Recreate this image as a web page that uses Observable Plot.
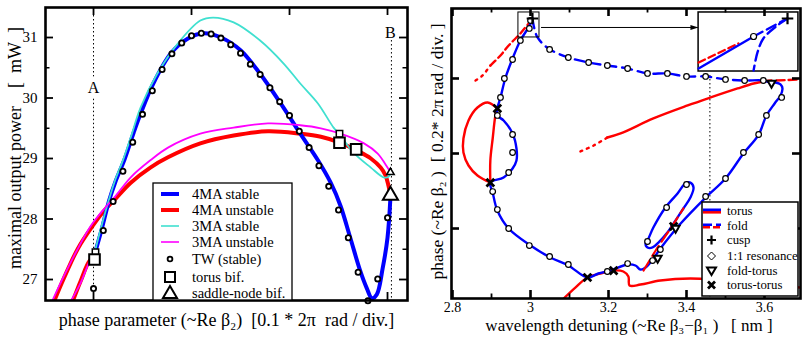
<!DOCTYPE html>
<html><head><meta charset="utf-8">
<script src="https://cdn.jsdelivr.net/npm/d3@7"></script>
<script src="https://cdn.jsdelivr.net/npm/@observablehq/plot@0.6"></script>
<style>
body{margin:0;background:#fff;}
#wrap{display:flex;width:804px;height:359px;overflow:hidden;}
svg, svg text{font-family:"Liberation Serif",serif;}
</style></head><body><div id="wrap"></div>
<script>
// ---------------- LEFT PANEL DATA ----------------
const leftXDomain = [-0.49, 3.204];
const leftYDomain = [26.653, 31.496];
const leftXTicks = [0, 1, 2, 3];
const leftYTicks = [27, 28, 29, 30, 31];
const leftYMinor = [27.5, 28.5, 29.5, 30.5];
const stable4MA = [[0.01,27.41],[0.08,27.81],[0.16,28.31],[0.22,28.60],[0.32,29.00],[0.41,29.43],[0.48,29.74],[0.61,30.24],[0.79,30.74],[0.96,30.98],[1.12,31.07],[1.30,31.00],[1.50,30.79],[1.70,30.40],[1.91,29.91],[2.11,29.41],[2.29,28.97],[2.42,28.60],[2.52,28.22],[2.62,27.69],[2.72,27.15],[2.79,26.85],[2.84,26.69],[2.89,26.75],[2.95,27.18],[3.00,27.69],[3.03,28.36]];
const unstable4MA_a = [[-0.40,26.65],[-0.30,27.03],[-0.16,27.51],[-0.02,27.86],[0.11,28.14],[0.21,28.31],[0.38,28.60],[0.58,28.85],[0.76,29.02],[1.09,29.25],[1.43,29.38],[1.78,29.45],[2.11,29.41],[2.32,29.36],[2.52,29.26],[2.69,29.13],[2.83,29.00],[2.93,28.85],[2.98,28.72],[3.01,28.55],[3.03,28.39]];
const unstable4MA_b = [[-0.21,26.65],[-0.13,26.98],[-0.04,27.31],[0.01,27.36]];
const stable3MA = [[0.02,27.50],[0.12,28.11],[0.22,28.64],[0.30,28.97],[0.38,29.35],[0.48,29.84],[0.65,30.40],[0.86,30.90],[1.09,31.28],[1.22,31.33],[1.43,31.25],[1.70,30.95],[1.94,30.57],[2.11,30.24],[2.29,29.91],[2.45,29.51],[2.51,29.40],[2.65,29.10],[2.83,28.85],[2.96,28.69],[3.01,28.70],[3.03,28.77]];
const unstable3MA_a = [[-0.42,26.65],[-0.31,27.03],[-0.17,27.48],[-0.03,27.88],[0.11,28.17],[0.22,28.37],[0.38,28.69],[0.58,28.97],[0.76,29.18],[1.09,29.41],[1.43,29.51],[1.78,29.58],[2.11,29.55],[2.32,29.50],[2.52,29.41],[2.76,29.25],[2.90,29.08],[3.00,28.85],[3.03,28.77]];
const unstable3MA_b = [[-0.23,26.65],[-0.13,26.95],[-0.04,27.30],[0.02,27.45]];
const twStable = [[0.0,26.85],[0.1,27.81],[0.2,28.29],[0.3,28.79],[0.4,29.27],[0.5,29.73],[0.6,30.12],[0.7,30.47],[0.8,30.73],[0.9,30.91],[1.0,31.03],[1.1,31.07],[1.2,31.06],[1.3,30.99],[1.4,30.88],[1.5,30.74],[1.6,30.56],[1.7,30.39],[1.8,30.17],[1.9,29.94],[2.0,29.71],[2.1,29.45],[2.2,29.18],[2.3,28.88],[2.4,28.54],[2.5,28.15],[2.6,27.69],[2.7,27.12],[2.8,26.65],[2.9,27.01],[3.0,28.02]];
const torus4MA = [[0.01,27.33],[2.51,29.26],[2.68,29.15]];
const torus3MA = [[0.02,27.45],[2.51,29.41]];
const saddle4MA = [[3.03,28.39]];
const saddle3MA = [[3.03,28.77]];
const markA = {x: 0, y: 30.16, label: "A"};
const markB = {x: 3.03, y: 31.08, label: "B"};
const lineAx = 0, lineBx = 3.04;
const leftLegendLabels = ["4MA stable","4MA unstable","3MA stable","3MA unstable","TW (stable)","torus bif.","saddle-node bif."];

// ---------------- RIGHT PANEL DATA ----------------
const rightXDomain = [2.7974, 3.6923];
const rightYDomain = [0.067, 3.933];
const rightXTicks = [2.8, 3.0, 3.2, 3.4, 3.6];
const rightXMinor = [2.9, 3.1, 3.3, 3.5];
const rightYTicks = [1, 2, 3];
const torusBlueMain = [[3.005,3.80],[2.997,3.70],[2.974,3.507],[2.954,3.267],[2.936,3.013],[2.923,2.747],[2.915,2.60],[2.915,2.507],[2.931,2.44],[2.954,2.267],[2.964,2.067],[2.964,1.907],[2.954,1.80],[2.931,1.68],[2.897,1.613],[2.903,1.48],[2.915,1.24],[2.944,1.00],[3.000,0.773],[3.051,0.613],[3.097,0.507],[3.146,0.347],[3.174,0.40],[3.205,0.44],[3.249,0.52],[3.269,0.507],[3.282,0.453],[3.295,0.48],[3.315,0.60],[3.333,0.733],[3.385,1.067],[3.449,1.413],[3.500,1.667],[3.546,2.00],[3.585,2.253],[3.605,2.507],[3.626,2.667],[3.641,2.773],[3.646,2.867],[3.641,2.92],[3.628,2.947]];
const torusBlueLoop = [[3.295,0.80],[3.300,0.84],[3.315,1.013],[3.346,1.28],[3.377,1.467],[3.397,1.60],[3.410,1.613],[3.418,1.547],[3.410,1.413],[3.392,1.267],[3.372,1.107],[3.351,0.947],[3.328,0.813],[3.313,0.747],[3.300,0.747]];
const foldBlue = [[3.005,3.80],[3.008,3.707],[3.018,3.547],[3.046,3.40],[3.097,3.28],[3.149,3.213],[3.197,3.173],[3.249,3.133],[3.300,3.067],[3.351,3.067],[3.400,3.027],[3.449,3.027],[3.500,2.987],[3.549,2.973],[3.597,2.973],[3.618,2.933]];
const foldRedRight = [[3.631,2.973],[3.692,2.987]];
const foldRedUpperDotted = [[2.859,2.973],[2.877,3.04],[2.897,3.173]];
const foldRedUpper = [[2.897,3.173],[2.923,3.307],[2.944,3.44],[2.974,3.60],[2.995,3.733]];
const torusRedLine = [[3.197,2.213],[3.231,2.267],[3.315,2.467],[3.403,2.64],[3.462,2.747],[3.531,2.867],[3.572,2.933],[3.597,2.96],[3.618,2.973]];
const torusRedDotted = [[3.128,2.027],[3.162,2.107],[3.197,2.213]];
const torusRedLoop = [[2.915,2.60],[2.890,2.68],[2.864,2.613],[2.841,2.44],[2.828,2.20],[2.828,2.013],[2.841,1.84],[2.864,1.707],[2.897,1.613]];
const torusRedVertical = [[2.915,2.60],[2.910,2.507],[2.903,2.20],[2.897,1.907],[2.897,1.613]];
const torusRedBottom = [[3.085,0.067],[3.115,0.213],[3.146,0.347],[3.179,0.40],[3.213,0.44],[3.238,0.427],[3.251,0.36],[3.254,0.24],[3.282,0.253],[3.333,0.307],[3.410,0.333],[3.487,0.307],[3.590,0.253],[3.692,0.213]];
const torusRedNear = [[3.290,0.44],[3.321,0.707],[3.359,1.0],[3.392,1.267]];
const resonance = [[3.000,3.773],[2.997,3.667],[2.974,3.507],[2.954,3.253],[2.933,3.00],[2.923,2.747],[2.915,2.507],[2.954,2.253],[2.954,2.013],[3.049,3.387],[3.097,3.28],[3.149,3.213],[3.197,3.173],[3.249,3.133],[3.300,3.067],[3.351,3.067],[3.400,3.027],[3.449,3.027],[3.500,2.987],[3.549,2.973],[3.597,2.973],[3.644,2.747],[3.605,2.507],[3.585,2.253],[3.546,2.013],[2.944,1.747],[2.903,1.493],[2.915,1.253],[2.944,1.00],[2.997,0.773],[3.049,0.627],[3.097,0.52],[3.197,0.427],[3.249,0.533],[3.500,1.667],[3.449,1.427],[3.400,1.587],[3.349,1.28],[3.300,0.827],[3.333,0.72],[3.313,0.573]];
const torusTorus = [[2.915,2.60],[2.897,1.613],[3.146,0.347],[3.213,0.44],[3.367,1.027]];
const foldTorus = [[3.618,2.933],[3.372,1.0],[3.326,0.60]];
const cusp = [[3.005,3.80]];
const detuningMarkX = 3.46, detuningMarkTop = 3.04;
const zoomBox = {x1: 2.969, x2: 3.023, y1: 3.547, y2: 3.88};
const insetBox = {x1: 3.431, x2: 3.687, y1: 3.093, y2: 3.88};
const arrowLine = [[3.028,3.68],[3.428,3.68]];
const insetBlueSolid = [[3.431,3.133],[3.572,3.56]];
const insetBlueDash = [[3.572,3.56],[3.659,3.80]];
const insetBlueDash2 = [[3.659,3.80],[3.633,3.707],[3.597,3.533],[3.582,3.347],[3.572,3.107]];
const insetRedDash = [[3.431,3.213],[3.533,3.467]];
const insetCircle = [[3.572,3.56]];
const insetCusp = [[3.659,3.80]];
const rightLegendLabels = ["torus","fold","cusp","1:1 resonance","fold-torus","torus-torus"];

// ---------------- helpers ----------------
const P = a => a.map(([x, y]) => ({x, y}));
const BLUE = "#0000ff", RED = "#ff0000", CYAN = "#40e0d0", MAG = "#ff00ff";
const FONT = "'Liberation Serif', serif";
function tickRules(xs, ys, xd, yd, len, sw) {
  const o = {stroke: "black", strokeWidth: sw};
  return [
    Plot.ruleX(xs, {x: d => d, y1: yd[0], y2: yd[0], insetBottom: len, ...o}),
    Plot.ruleX(xs, {x: d => d, y1: yd[1], y2: yd[1], insetTop: len, ...o}),
    Plot.ruleY(ys, {y: d => d, x1: xd[0], x2: xd[0], insetLeft: len, ...o}),
    Plot.ruleY(ys, {y: d => d, x1: xd[1], x2: xd[1], insetRight: len, ...o})
  ];
}
const triDown = {draw(ctx, size) {
  const r = Math.sqrt(size / Math.PI) * 1.3;
  ctx.moveTo(0, r); ctx.lineTo(r * 0.95, -r * 0.65); ctx.lineTo(-r * 0.95, -r * 0.65); ctx.closePath();
}};
const triRight = {draw(ctx, size) {
  const r = Math.sqrt(size / Math.PI);
  ctx.moveTo(r, 0); ctx.lineTo(-r, -r * 0.6); ctx.lineTo(-r, r * 0.6); ctx.closePath();
}};

// ---------------- LEFT PLOT ----------------
const lineOpt = (stroke, w, extra = {}) => ({x: "x", y: "y", stroke, strokeWidth: w, curve: "catmull-rom", clip: true, ...extra});
const left = Plot.plot({
  width: 410, height: 359,
  marginLeft: 45, marginRight: 3, marginTop: 7, marginBottom: 59,
  style: {fontFamily: FONT, fontSize: "15px", background: "white", overflow: "visible", color: "black"},
  x: {domain: leftXDomain, axis: null},
  y: {domain: leftYDomain, ticks: leftYTicks, tickSize: 0, tickPadding: 8, tickFormat: d => String(d), label: null},
  marks: [
    Plot.ruleX([lineAx], {x: d => d, y1: leftYDomain[1], y2: 30.35, stroke: "black", strokeWidth: 1, strokeDasharray: "1.5,2.5"}),
    Plot.ruleX([lineAx], {x: d => d, y1: 29.98, y2: leftYDomain[0], stroke: "black", strokeWidth: 1, strokeDasharray: "1.5,2.5"}),
    Plot.ruleX([lineBx], {x: d => d, y1: 30.95, y2: leftYDomain[0], stroke: "black", strokeWidth: 1, strokeDasharray: "1.5,2.5"}),
    Plot.line(P(unstable4MA_a), lineOpt(RED, 4)),
    Plot.line(P(unstable4MA_b), lineOpt(RED, 4)),
    Plot.line(P(stable4MA), lineOpt(BLUE, 4)),
    Plot.line(P(stable3MA), lineOpt(CYAN, 1.8)),
    Plot.line(P(unstable3MA_a), lineOpt(MAG, 1.8)),
    Plot.line(P(unstable3MA_b), lineOpt(MAG, 1.8)),
    Plot.dot(P(twStable), {x: "x", y: "y", r: 2.6, fill: "white", stroke: "black", strokeWidth: 1.8}),
    Plot.dot(P(torus3MA), {x: "x", y: "y", symbol: "square", r: 3.6, fill: "white", stroke: "black", strokeWidth: 1.5}),
    Plot.dot(P(torus4MA), {x: "x", y: "y", symbol: "square", r: 6, fill: "white", stroke: "black", strokeWidth: 2}),
    Plot.dot(P(saddle3MA), {x: "x", y: "y", symbol: "triangle", r: 2.8, fill: "white", stroke: "black", strokeWidth: 1.5}),
    Plot.dot(P(saddle4MA), {x: "x", y: "y", symbol: "triangle", r: 5.6, fill: "white", stroke: "black", strokeWidth: 2}),
    Plot.text([markA, markB], {x: "x", y: "y", text: "label", fontSize: 16}),
    Plot.text(["phase parameter (~Re \u03b2\u2082)\u00a0\u00a0[0.1 * 2\u03c0\u00a0\u00a0rad / div.]"], {frameAnchor: "bottom", textAnchor: "middle", dy: 25, dx: 0, text: d => d, fontSize: 18}),
    Plot.text(["maximal output power\u00a0\u00a0\u00a0\u00a0[\u00a0\u00a0mW\u00a0\u00a0]"], {frameAnchor: "left", textAnchor: "middle", dx: -30, dy: -6, rotate: -90, text: d => d, fontSize: 18}),
    Plot.frame({stroke: "black", strokeWidth: 2.6}),
    ...tickRules(leftXTicks, leftYTicks, leftXDomain, leftYDomain, 8, 1.8),
    ...tickRules([], leftYMinor, leftXDomain, leftYDomain, 4.5, 1.5)
  ]
});

// ---------------- RIGHT PLOT ----------------
const right = Plot.plot({
  width: 394, height: 359,
  marginLeft: 41, marginRight: 4, marginTop: 8, marginBottom: 61,
  style: {fontFamily: FONT, fontSize: "14px", background: "white", overflow: "visible", color: "black"},
  x: {domain: rightXDomain, ticks: rightXTicks, tickSize: 0, tickPadding: 4, tickFormat: d => String(+d.toFixed(1)), label: null},
  y: {domain: rightYDomain, axis: null},
  marks: [
    Plot.ruleX([detuningMarkX], {x: d => d, y1: detuningMarkTop, y2: rightYDomain[0], stroke: "black", strokeWidth: 1, strokeDasharray: "1.5,2.5"}),
    Plot.line(P(torusRedBottom), lineOpt(RED, 2.4)),
    Plot.line(P(torusRedLoop), lineOpt(RED, 2.4)),
    Plot.line(P(torusRedVertical), lineOpt(RED, 2.4)),
    Plot.line(P(torusRedLine), lineOpt(RED, 2.4)),
    Plot.line(P(torusRedDotted), lineOpt(RED, 2.4, {strokeDasharray: "2,5"})),
    Plot.line(P(foldRedUpperDotted), lineOpt(RED, 2.4, {strokeDasharray: "2,5"})),
    Plot.line(P(foldRedUpper), lineOpt(RED, 2.4, {strokeDasharray: "7,4"})),
    Plot.line(P(foldRedRight), lineOpt(RED, 2.4, {strokeDasharray: "8,4"})),
    Plot.line(P(torusBlueMain), lineOpt(BLUE, 2.4)),
    Plot.line(P(torusBlueLoop), lineOpt(BLUE, 2.4, {curve: "catmull-rom-closed"})),
    Plot.line(P(foldBlue), lineOpt(BLUE, 2.4, {strokeDasharray: "10,6"})),
    Plot.line(P(torusRedNear), lineOpt(RED, 2.2, {strokeDasharray: "12,5"})),
    Plot.dot(P(resonance), {x: "x", y: "y", r: 2.8, fill: "white", stroke: "black", strokeWidth: 1.2}),
    Plot.dot(P(torusTorus), {x: "x", y: "y", symbol: "times", r: 3.6, stroke: "black", strokeWidth: 2.8}),
    Plot.dot(P(foldTorus), {x: "x", y: "y", symbol: triDown, r: 3.2, fill: "white", stroke: "black", strokeWidth: 2}),
    Plot.dot(P(cusp), {x: "x", y: "y", symbol: "plus", r: 3.8, stroke: "black", strokeWidth: 2.2}),
    Plot.rect([zoomBox], {x1: "x1", x2: "x2", y1: "y1", y2: "y2", fill: "none", stroke: "black", strokeWidth: 1}),
    Plot.line(P(arrowLine), {x: "x", y: "y", stroke: "black", strokeWidth: 1}),
    Plot.dot(P(arrowLine.slice(1)), {x: "x", y: "y", symbol: triRight, r: 4, fill: "black", dx: -3}),
    Plot.rect([insetBox], {x1: "x1", x2: "x2", y1: "y1", y2: "y2", fill: "white", stroke: "black", strokeWidth: 1.5}),
    Plot.line(P(insetRedDash), lineOpt(RED, 2.4, {strokeDasharray: "7,4", curve: "linear"})),
    Plot.line(P(insetBlueSolid), lineOpt(BLUE, 2.4, {curve: "linear"})),
    Plot.line(P(insetBlueDash), lineOpt(BLUE, 2.4, {strokeDasharray: "10,5", curve: "linear"})),
    Plot.line(P(insetBlueDash2), lineOpt(BLUE, 2.4, {strokeDasharray: "10,5"})),
    Plot.dot(P(insetCircle), {x: "x", y: "y", r: 3, fill: "white", stroke: "black", strokeWidth: 1.2}),
    Plot.dot(P(insetCusp), {x: "x", y: "y", symbol: "plus", r: 3.8, stroke: "black", strokeWidth: 2.2}),
    Plot.text(["wavelength detuning (~Re \u03b2\u2083\u2212\u03b2\u2081 )\u00a0\u00a0\u00a0[ nm ]"], {frameAnchor: "bottom", textAnchor: "middle", dy: 32, dx: 3, text: d => d, fontSize: 17}),
    Plot.text(["phase (~Re \u03b2\u2082 )\u00a0\u00a0[ 0.2* 2\u03c0 rad / div. ]"], {frameAnchor: "left", textAnchor: "middle", dx: -14, dy: -2, rotate: -90, text: d => d, fontSize: 17.5}),
    Plot.frame({stroke: "black", strokeWidth: 2.6}),
    ...tickRules(rightXTicks, rightYTicks, rightXDomain, rightYDomain, 8, 2.6),
    ...tickRules(rightXMinor, [], rightXDomain, rightYDomain, 4.5, 1.8)
  ]
});

// ---------------- legends (drawn with d3 into the plot SVGs) ----------------
function leftLegend(svg) {
  const g = d3.select(svg).append("g").style("font-family", FONT).style("font-size", "14.5px").attr("text-anchor", "start");
  g.append("rect").attr("x", 153).attr("y", 183).attr("width", 139).attr("height", 117)
    .attr("fill", "white").attr("stroke", "black").attr("stroke-width", 1.3);
  const rows = [194, 210, 226, 242, 259, 277, 293];
  const lines = [[BLUE, 4], [RED, 4], [CYAN, 1.6], [MAG, 1.6]];
  lines.forEach(([c, w], i) => g.append("line").attr("x1", 161).attr("x2", 179).attr("y1", rows[i]).attr("y2", rows[i]).attr("stroke", c).attr("stroke-width", w));
  g.append("circle").attr("cx", 170).attr("cy", rows[4]).attr("r", 2.4).attr("fill", "white").attr("stroke", "black").attr("stroke-width", 1.8);
  g.append("rect").attr("x", 165).attr("y", rows[5] - 5).attr("width", 10).attr("height", 10).attr("fill", "white").attr("stroke", "black").attr("stroke-width", 2);
  g.append("path").attr("d", `M170,${rows[6] - 7}L177,${rows[6] + 5}L163,${rows[6] + 5}Z`).attr("fill", "white").attr("stroke", "black").attr("stroke-width", 2);
  leftLegendLabels.forEach((t, i) => g.append("text").attr("x", 192).attr("y", rows[i]).attr("dy", "0.35em").attr("text-anchor", "start").style("font-family", FONT).text(t));
}
function rightLegend(svg) {
  const g = d3.select(svg).append("g").style("font-family", FONT).style("font-size", "12.8px").attr("text-anchor", "start");
  g.append("rect").attr("x", 292).attr("y", 202).attr("width", 96).attr("height", 94)
    .attr("fill", "white").attr("stroke", "black").attr("stroke-width", 1.5);
  const rows = [211, 226, 240, 256, 271, 285];
  g.append("line").attr("x1", 293).attr("x2", 311).attr("y1", rows[0] + 1.3).attr("y2", rows[0] + 1.3).attr("stroke", RED).attr("stroke-width", 2.6);
  g.append("line").attr("x1", 293).attr("x2", 311).attr("y1", rows[0] - 1.2).attr("y2", rows[0] - 1.2).attr("stroke", BLUE).attr("stroke-width", 2.6);
  g.append("line").attr("x1", 293).attr("x2", 311).attr("y1", rows[1] + 1.3).attr("y2", rows[1] + 1.3).attr("stroke", RED).attr("stroke-width", 2.6).attr("stroke-dasharray", "7,3");
  g.append("line").attr("x1", 293).attr("x2", 311).attr("y1", rows[1] - 1.2).attr("y2", rows[1] - 1.2).attr("stroke", BLUE).attr("stroke-width", 2.6).attr("stroke-dasharray", "9,4");
  g.append("path").attr("d", `M297,${rows[2]}h9M301.5,${rows[2] - 4.5}v9`).attr("stroke", "black").attr("stroke-width", 2.2);
  g.append("path").attr("d", `M301.5,${rows[3] - 4}L305.5,${rows[3]}L301.5,${rows[3] + 4}L297.5,${rows[3]}Z`).attr("fill", "white").attr("stroke", "black").attr("stroke-width", 1);
  g.append("path").attr("d", `M297,${rows[4] - 3.5}L306,${rows[4] - 3.5}L301.5,${rows[4] + 4}Z`).attr("fill", "white").attr("stroke", "black").attr("stroke-width", 2);
  g.append("path").attr("d", `M298,${rows[5] - 3.5}L305,${rows[5] + 3.5}M305,${rows[5] - 3.5}L298,${rows[5] + 3.5}`).attr("stroke", "black").attr("stroke-width", 2.8);
  rightLegendLabels.forEach((t, i) => g.append("text").attr("x", 317).attr("y", rows[i]).attr("dy", "0.35em").attr("text-anchor", "start").style("font-family", FONT).text(t));
}
leftLegend(left);
rightLegend(right);
const wrap = document.getElementById("wrap");
wrap.append(left, right);
</script>
</body></html>
